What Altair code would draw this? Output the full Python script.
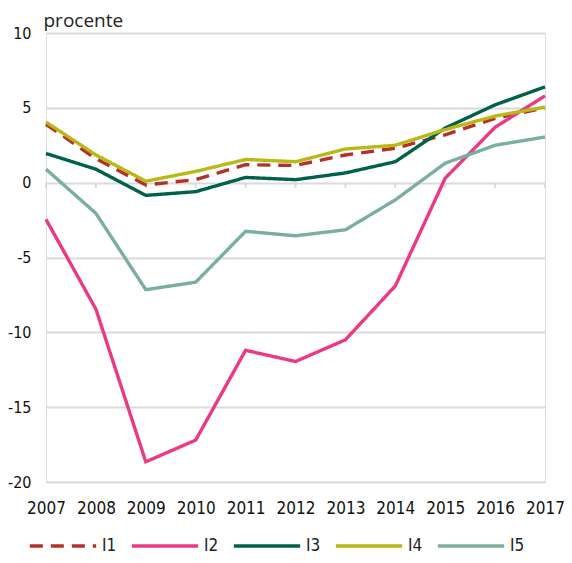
import altair as alt
import pandas as pd

years = [2007, 2008, 2009, 2010, 2011, 2012, 2013, 2014, 2015, 2016, 2017]
series_names = ["I1", "I2", "I3", "I4", "I5"]
I1 = [3.9, 1.6, -0.15, 0.2, 1.2, 1.15, 1.85, 2.3, 3.2, 4.3, 5.0]
I2 = [-2.45, -8.45, -18.65, -17.2, -11.2, -11.95, -10.5, -6.9, 0.3, 3.7, 5.8]
I3 = [1.95, 0.9, -0.85, -0.6, 0.35, 0.2, 0.65, 1.4, 3.65, 5.2, 6.4]
I4 = [4.05, 1.85, 0.1, 0.75, 1.55, 1.4, 2.25, 2.5, 3.55, 4.45, 5.05]
I5 = [0.9, -2.05, -7.15, -6.65, -3.25, -3.55, -3.15, -1.15, 1.3, 2.5, 3.05]
colors = ["#b5302a", "#ea3a86", "#00604a", "#b8b816", "#7aaea1"]
y_ticks = [-20, -15, -10, -5, 0, 5, 10]

rows = []
for name, vals in zip(series_names, [I1, I2, I3, I4, I5]):
    for yr, v in zip(years, vals):
        rows.append({"year": yr, "value": v, "series": name})
df = pd.DataFrame(rows)
ticks_df = pd.DataFrame({"year": years})

FONT_NUM = "Liberation Sans Narrow, DejaVu Sans Condensed, sans-serif"
FONT_TXT = "Open Sans, sans-serif"

x_scale = alt.Scale(domain=[2007, 2017], nice=False)
y_scale = alt.Scale(domain=[-20, 10], nice=False)

lines = alt.Chart(df).mark_line(strokeWidth=3.4, strokeJoin="miter").encode(
    x=alt.X("year:Q", scale=x_scale,
            axis=alt.Axis(values=years, format="d", title=None, grid=False,
                          domain=False, ticks=False, labelPadding=18,
                          labelFont=FONT_NUM, labelFontSize=17,
                          labelColor="#111", labelFlush=False)),
    y=alt.Y("value:Q", scale=y_scale,
            axis=alt.Axis(values=y_ticks, title="procente", titleAngle=0,
                          titleAlign="left", titleBaseline="alphabetic",
                          titleX=-3, titleY=-7, titleFont=FONT_TXT,
                          titleFontSize=19, titleFontWeight="normal",
                          titleColor="#222",
                          labelExpr="'' + datum.value",
                          grid=True, gridColor="#dadada", gridWidth=2,
                          domain=False, ticks=False, labelPadding=15,
                          labelFont=FONT_NUM, labelFontSize=16,
                          labelColor="#111")),
    color=alt.Color("series:N", scale=alt.Scale(domain=series_names, range=colors),
                    legend=alt.Legend(title=None, orient="none", direction="horizontal",
                                      legendX=-18, legendY=478,
                                      symbolType="stroke", symbolSize=4400,
                                      symbolStrokeWidth=3.5, labelFont=FONT_NUM,
                                      labelFontSize=17, labelColor="#222",
                                      labelOffset=4, columnPadding=7,
                                      columns=5)),
    strokeDash=alt.StrokeDash("series:N",
                              scale=alt.Scale(domain=series_names,
                                              range=[[13, 8], [1, 0], [1, 0], [1, 0], [1, 0]]),
                              legend=None),
)

zero_ticks = alt.Chart(ticks_df).mark_rule(color="#dadada", strokeWidth=2).encode(
    x=alt.X("year:Q", scale=x_scale),
    y=alt.datum(0),
    y2=alt.datum(-0.35),
)

chart = alt.layer(zero_ticks, lines).properties(
    width=499, height=449,
    autosize=alt.AutoSizeParams(type="none"),
    padding={"left": 38, "top": 25, "right": 19, "bottom": 73},
).configure_view(stroke=None).configure(background="white")

chart.save("out.html", embed_options={"renderer": "svg", "actions": False})
